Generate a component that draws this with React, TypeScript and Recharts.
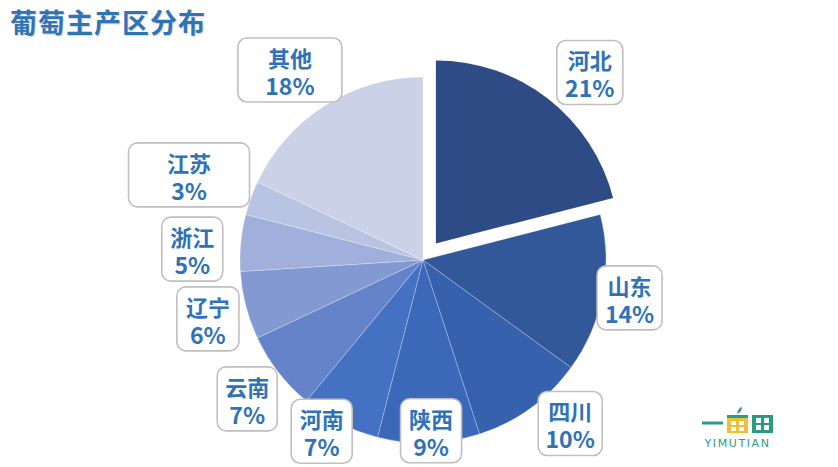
import React from "react";
import { PieChart, Pie, Cell } from "recharts";

// 葡萄主产区分布 (share of production, %)
const regions = ["河北", "山东", "四川", "陕西", "河南", "云南", "辽宁", "浙江", "江苏", "其他"];
const shares = [21, 14, 10, 9, 7, 7, 6, 5, 3, 18];

const COLORS = [
  "#2E4B85",
  "#32589A",
  "#3661AC",
  "#3B68B9",
  "#4471C2",
  "#6583C9",
  "#8399D2",
  "#A1B0DB",
  "#B9C4E3",
  "#CBD2E8",
];

// label box layout: distance from pie centre, clockwise angle nudge, box width
const LABEL_DIST = [230, 210, 220, 171, 199, 224, 223, 231, 249, 232];
const LABEL_SHIFT = [4.2, -0.4, -6, -0.9, 3.6, -0.5, -0.9, -2.7, 0.2, -2.6];
const BOX_W = [66, 65, 64, 61, 61, 60, 62, 61, 121, 104];
const BOX_H = 64;

const W = 838;
const H = 467;
const CX = 423;
const CY = 260;
const R = 183;
const EXPLODE = 21;

const data = regions.map((name, i) => ({ name, value: shares[i] }));
const total = shares.reduce((a, b) => a + b, 0);
const RAD = Math.PI / 180;
// first slice is pulled out along its mid angle
const firstMid = 90 - (shares[0] / total) * 180;
const EX = EXPLODE * Math.cos(firstMid * RAD);
const EY = -EXPLODE * Math.sin(firstMid * RAD);

const TEXT = "#2F72B8";
const FONT = '"Noto Sans CJK SC", "Noto Sans", sans-serif';

const renderLabel = (props: any) => {
  const { cx, cy, midAngle, index } = props;
  const ox = index === 0 ? EX : 0;
  const oy = index === 0 ? EY : 0;
  const a = (midAngle - LABEL_SHIFT[index]) * RAD;
  const x = cx + ox + LABEL_DIST[index] * Math.cos(a);
  const y = cy + oy - LABEL_DIST[index] * Math.sin(a);
  const w = BOX_W[index];
  return (
    <g key={`lbl-${index}`}>
      <rect
        x={x - w / 2}
        y={y - BOX_H / 2}
        width={w}
        height={BOX_H}
        rx={9}
        fill="#fff"
        stroke="#BFBFBF"
        strokeWidth={1.6}
      />
      <text
        textAnchor="middle"
        dominantBaseline="central"
        fill={TEXT}
        fontFamily={FONT}
        fontWeight={700}
        fontSize={22}
      >
        <tspan x={x} y={y - 13}>
          {regions[index]}
        </tspan>
        <tspan x={x} y={y + 15} fontSize={23}>
          {shares[index]}%
        </tspan>
      </text>
    </g>
  );
};

function Logo() {
  return (
    <svg
      width={90}
      height={60}
      style={{ position: "absolute", left: 695, top: 400 }}
      viewBox="695 400 90 60"
    >
      <rect x={702} y={421.5} width={21} height={3} fill="#2A9D80" />
      <path d="M737 414 q1 -6 5 -7 q0 5 -5 7z" fill="#2A9D80" />
      <rect x={727} y={415} width={21} height={3} fill="#2A9D80" />
      <rect x={727} y={418} width={21} height={15} fill="#F2BE38" />
      <rect x={731} y={421} width={5} height={4} fill="#fff" />
      <rect x={739} y={421} width={5} height={4} fill="#fff" />
      <rect x={731} y={427} width={5} height={4} fill="#fff" />
      <rect x={739} y={427} width={5} height={4} fill="#fff" />
      <rect x={752} y={415} width={21} height={18} fill="#2A9D80" />
      <rect x={756} y={418} width={5} height={5} fill="#fff" />
      <rect x={764} y={418} width={5} height={5} fill="#fff" />
      <rect x={756} y={425} width={5} height={5} fill="#fff" />
      <rect x={764} y={425} width={5} height={5} fill="#fff" />
      <text
        x={737.5}
        y={447}
        textAnchor="middle"
        fill="#2A9D80"
        fontFamily='"DejaVu Sans", sans-serif'
        fontSize={11}
        letterSpacing={1.6}
      >
        YIMUTIAN
      </text>
    </svg>
  );
}

export default function App() {
  return (
    <div
      style={{
        position: "absolute",
        left: 0,
        top: 0,
        width: W,
        height: H,
        background: "#fff",
        overflow: "hidden",
      }}
    >
      <div
        style={{
          position: "absolute",
          left: 10,
          top: 2,
          fontFamily: FONT,
          fontWeight: 700,
          fontSize: 27,
          color: "#2E75B6",
          letterSpacing: 1,
          textShadow: "1px 1px 1px rgba(120,60,120,0.25)",
          zIndex: 2,
        }}
      >
        葡萄主产区分布
      </div>
      <PieChart width={W} height={H} margin={{ top: 0, right: 0, bottom: 0, left: 0 }}>
        <Pie
          data={data}
          dataKey="value"
          nameKey="name"
          cx={CX}
          cy={CY}
          outerRadius={R}
          startAngle={90}
          endAngle={-270}
          label={renderLabel}
          labelLine={false}
          isAnimationActive={false}
        >
          {data.map((_, i) => (
            <Cell
              key={i}
              fill={i === 0 ? "none" : COLORS[i]}
              stroke={i === 0 ? "none" : "rgba(255,255,255,0.3)"}
              strokeWidth={0.8}
            />
          ))}
        </Pie>
        <Pie
          data={data}
          dataKey="value"
          nameKey="name"
          cx={CX + EX}
          cy={CY + EY}
          outerRadius={R}
          startAngle={90}
          endAngle={-270}
          isAnimationActive={false}
        >
          {data.map((_, i) => (
            <Cell
              key={i}
              fill={i === 0 ? COLORS[0] : "none"}
              stroke="none"
            />
          ))}
        </Pie>
      </PieChart>
      <Logo />
    </div>
  );
}
